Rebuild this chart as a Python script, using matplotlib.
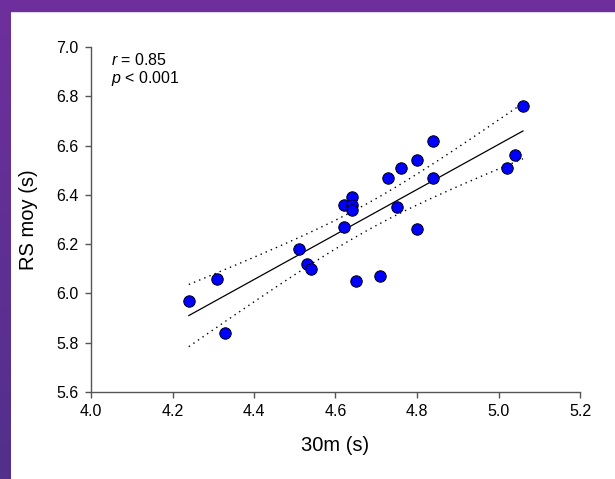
import numpy as np
import matplotlib
matplotlib.use("Agg")
import matplotlib.pyplot as plt
from matplotlib.patches import Rectangle

# valeurs
sprint_30m = [4.24, 4.31, 4.33, 4.51, 4.53, 4.54, 4.62, 4.62, 4.64, 4.64, 4.64, 4.65,
              4.71, 4.73, 4.75, 4.76, 4.80, 4.80, 4.84, 4.84, 5.02, 5.04, 5.06]
rs_moy = [5.97, 6.06, 5.84, 6.18, 6.12, 6.10, 6.27, 6.36, 6.39, 6.36, 6.34, 6.05,
          6.07, 6.47, 6.35, 6.51, 6.54, 6.26, 6.62, 6.47, 6.51, 6.56, 6.76]
x_ticks = [4.0, 4.2, 4.4, 4.6, 4.8, 5.0, 5.2]
y_ticks = [5.6, 5.8, 6.0, 6.2, 6.4, 6.6, 6.8, 7.0]
stats_text = ["$\\it{r}$ = 0.85", "$\\it{p}$ < 0.001"]

plt.rcParams['font.family'] = ['Liberation Sans', 'DejaVu Sans']
plt.rcParams['mathtext.fontset'] = 'custom'
plt.rcParams['mathtext.it'] = 'Liberation Sans:italic'

fig = plt.figure(figsize=(6.15, 4.79), dpi=100)
fig.patch.set_facecolor('white')

# cadre violet (haut + gauche)
W, H = 615, 479
fig.add_artist(Rectangle((0, 1 - 11 / H), 1, 11 / H, transform=fig.transFigure,
                         color='#6E2F9D', zorder=0))
strip = fig.add_axes([0, 0, 10 / W, 1])
grad = np.linspace(0, 1, 256).reshape(-1, 1)
cmap = matplotlib.colors.LinearSegmentedColormap.from_list('v', ['#6E2F9D', '#52308B'])
strip.imshow(grad, aspect='auto', cmap=cmap, extent=[0, 1, 0, 1])
strip.set_axis_off()

ax = fig.add_axes([91 / W, 1 - 392 / H, (580 - 91) / W, (392 - 47) / H])

x = np.array(sprint_30m)
y = np.array(rs_moy)

# régression linéaire + IC 95 %
slope, intercept = np.polyfit(x, y, 1)
xs = np.linspace(x.min(), x.max(), 100)
ys = slope * xs + intercept
n = len(x)
resid = y - (slope * x + intercept)
s = np.sqrt(np.sum(resid ** 2) / (n - 2))
t = 2.080  # t(0.975, 21)
ci = t * s * np.sqrt(1 / n + (xs - x.mean()) ** 2 / np.sum((x - x.mean()) ** 2))

ax.plot(xs, ys, color='black', lw=0.9, zorder=2)
ax.plot(xs, ys + ci, color='black', lw=1.0, ls=(0, (1, 3)), zorder=2)
ax.plot(xs, ys - ci, color='black', lw=1.0, ls=(0, (1, 3)), zorder=2)

ax.scatter(x, y, s=68, color='#0000FF', edgecolor='black', linewidth=0.7, zorder=3)

ax.set_xlim(4.0, 5.2)
ax.set_ylim(5.6, 7.0)
ax.set_xticks(x_ticks)
ax.set_yticks(y_ticks)
ax.set_xticklabels([f"{v:.1f}" for v in x_ticks])
ax.set_yticklabels([f"{v:.1f}" for v in y_ticks])
for side in ['top', 'right']:
    ax.spines[side].set_visible(False)
for side in ['left', 'bottom']:
    ax.spines[side].set_color('#555555')
    ax.spines[side].set_linewidth(1.0)
ax.tick_params(direction='out', length=4, width=1.0, color='#555555',
               labelsize=11.5, pad=5)
ax.set_xlabel("30m (s)", fontsize=14.5, labelpad=12)
ax.set_ylabel("RS moy (s)", fontsize=14.5, labelpad=13)

ax.text(0.04, 0.962, stats_text[0], transform=ax.transAxes, fontsize=11.5, va='center')
ax.text(0.04, 0.910, stats_text[1], transform=ax.transAxes, fontsize=11.5, va='center')

fig.savefig("out.png", dpi=100)
